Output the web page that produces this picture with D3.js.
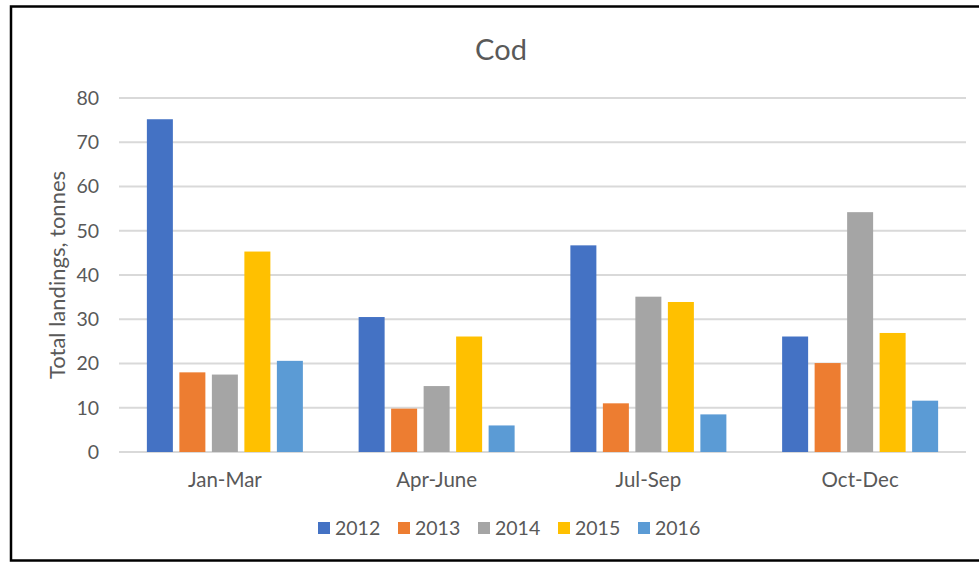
<!DOCTYPE html>
<html>
<head>
<meta charset="utf-8">
<script src="https://cdn.jsdelivr.net/npm/d3@7"></script>
<style>
  html, body { margin: 0; padding: 0; background: #fff; }
  svg { display: block; font-family: Lato, "Open Sans", sans-serif; }
</style>
</head>
<body>
<svg id="chart" width="979" height="562"></svg>
<script>
const title = "Cod";
const yAxisLabel = "Total landings, tonnes";
const categories = ["Jan-Mar", "Apr-June", "Jul-Sep", "Oct-Dec"];
const seriesNames = ["2012", "2013", "2014", "2015", "2016"];
const values2012 = [75.2, 30.5, 46.7, 26.1];
const values2013 = [18.0, 9.8, 11.0, 20.1];
const values2014 = [17.5, 14.9, 35.1, 54.2];
const values2015 = [45.3, 26.1, 33.9, 26.9];
const values2016 = [20.6, 6.0, 8.5, 11.6];
const colors = ["#4472C4", "#ED7D31", "#A5A5A5", "#FFC000", "#5B9BD5"];
const yTicks = [0, 10, 20, 30, 40, 50, 60, 70, 80];

const seriesValues = [values2012, values2013, values2014, values2015, values2016];

const svg = d3.select("#chart");
const textColor = "#595959";

// frame
svg.append("rect")
  .attr("x", 11).attr("y", 6.5).attr("width", 1000).attr("height", 554)
  .attr("fill", "none").attr("stroke", "#000").attr("stroke-width", 2.5);

const plot = { left: 119, right: 966, top: 98, bottom: 452 };

const y = d3.scaleLinear().domain([0, 80]).range([plot.bottom, plot.top]);
const x0 = d3.scaleBand().domain(categories).range([plot.left, plot.right])
  .paddingInner(0.2326).paddingOuter(0.1163);
const x1 = d3.scaleBand().domain(seriesNames).range([0, x0.bandwidth()])
  .paddingInner(0.2).paddingOuter(0.1);

// gridlines
svg.append("g").selectAll("line").data(yTicks).join("line")
  .attr("x1", plot.left).attr("x2", plot.right)
  .attr("y1", d => y(d)).attr("y2", d => y(d))
  .attr("stroke", "#d9d9d9").attr("stroke-width", 2);

// y tick labels
svg.append("g").selectAll("text").data(yTicks).join("text")
  .attr("x", 99).attr("y", d => y(d)).attr("dy", "0.35em")
  .attr("text-anchor", "end").attr("fill", textColor)
  .attr("font-size", 19.5).text(d => d);

// bars
const groups = svg.append("g").selectAll("g").data(categories).join("g")
  .attr("transform", c => `translate(${x0(c)},0)`);
groups.selectAll("rect")
  .data((c, ci) => seriesNames.map((s, si) => ({ s, si, v: seriesValues[si][ci] })))
  .join("rect")
  .attr("x", d => x1(d.s))
  .attr("width", x1.bandwidth())
  .attr("y", d => y(d.v))
  .attr("height", d => y(0) - y(d.v))
  .attr("fill", d => colors[d.si]);

// x labels
svg.append("g").selectAll("text").data(categories).join("text")
  .attr("x", c => x0(c) + x0.bandwidth() / 2).attr("y", 487)
  .attr("text-anchor", "middle").attr("fill", textColor)
  .attr("font-size", 20.5).text(c => c);

// title
svg.append("text").attr("x", 501).attr("y", 60)
  .attr("text-anchor", "middle").attr("fill", textColor)
  .attr("font-size", 29).text(title);

// y axis label
svg.append("text")
  .attr("transform", "translate(65,275) rotate(-90)")
  .attr("text-anchor", "middle").attr("fill", textColor)
  .attr("font-size", 22).text(yAxisLabel);

// legend
const legend = svg.append("g").selectAll("g").data(seriesNames).join("g")
  .attr("transform", (d, i) => `translate(${318 + i * 80},528)`);
legend.append("rect").attr("x", 0).attr("y", -6).attr("width", 12).attr("height", 12)
  .attr("fill", (d, i) => colors[i]);
legend.append("text").attr("x", 17).attr("y", 0).attr("dy", "0.35em")
  .attr("fill", textColor).attr("font-size", 19.5).text(d => d);
</script>
</body>
</html>
